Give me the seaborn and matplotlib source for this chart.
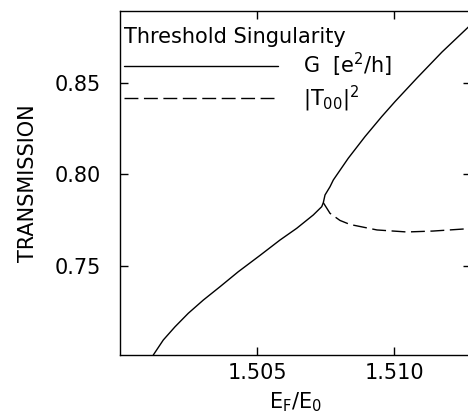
import matplotlib
matplotlib.use("Agg")
import matplotlib.pyplot as plt
import seaborn as sns
import pandas as pd

# G [e^2/h] : lower branch up to the threshold, then upper branch
g_x = [1.501215, 1.501580, 1.502007, 1.502493, 1.503040, 1.503650, 1.504318, 1.505109,
       1.505839, 1.506449, 1.507055, 1.507361, 1.507420,
       1.507482, 1.507664, 1.507785, 1.508332, 1.508942, 1.509551, 1.510036, 1.510839,
       1.511752, 1.512774]
g_y = [0.7014, 0.7096, 0.7168, 0.7242, 0.7314, 0.7387, 0.7469, 0.7558,
       0.7642, 0.7706, 0.7779, 0.7824, 0.7846,
       0.7888, 0.7933, 0.7970, 0.8089, 0.8207, 0.8316, 0.8398, 0.8527,
       0.8669, 0.8814]
# |T00|^2 above the threshold
t_x = [1.507420, 1.507664, 1.508029, 1.508394, 1.509380, 1.510470, 1.511420, 1.512520, 1.512800]
t_y = [0.7846, 0.7788, 0.7749, 0.7727, 0.7697, 0.7686, 0.7691, 0.7702, 0.7703]

g_label = "G  [e$^2$/h]"
t_label = "|T$_{00}$|$^2$"

df = pd.concat([
    pd.DataFrame({"x": g_x, "y": g_y, "curve": g_label}),
    pd.DataFrame({"x": t_x, "y": t_y, "curve": t_label}),
])

sns.set_style("ticks")
plt.rcParams["font.family"] = ["DejaVu Sans"]
plt.rcParams["mathtext.default"] = "regular"
for k in ["text.color", "axes.labelcolor", "xtick.color", "ytick.color", "axes.edgecolor"]:
    plt.rcParams[k] = "black"

fig = plt.figure(figsize=(4.68, 4.16), dpi=100)
ax = fig.add_axes([120 / 468, 61 / 416, 351 / 468, 344 / 416])

sns.lineplot(data=df, x="x", y="y", style="curve", color="black", linewidth=1.0,
             dashes={g_label: "", t_label: (10, 4)}, ax=ax)

ax.set_xlim(1.500, 1.51281)
ax.set_ylim(0.7014, 0.8893)
ax.set_xticks([1.505, 1.510])
ax.set_xticklabels(["1.505", "1.510"])
ax.set_yticks([0.75, 0.80, 0.85])
ax.set_yticklabels(["0.75", "0.80", "0.85"])
ax.tick_params(direction="in", length=6, width=1, top=True, right=True, labelsize=15)
ax.tick_params(axis="y", pad=14)
ax.tick_params(axis="x", pad=6)
for s in ax.spines.values():
    s.set_linewidth(1.0)

ax.set_xlabel("E$_F$/E$_0$", fontsize=15, labelpad=5)
ax.set_ylabel("TRANSMISSION", fontsize=15, labelpad=12)

old = ax.get_legend()
handles = old.legend_handles
labels = [t.get_text() for t in old.get_texts()]
ax.legend(handles, labels, title="Threshold Singularity", loc="upper left",
          bbox_to_anchor=(0.0, 0.966), frameon=False, fontsize=15, title_fontsize=15,
          handlelength=7.4, handletextpad=1.2, borderpad=0.1, borderaxespad=0.1,
          labelspacing=0.2, alignment="left")

fig.savefig("out.png", dpi=100)
